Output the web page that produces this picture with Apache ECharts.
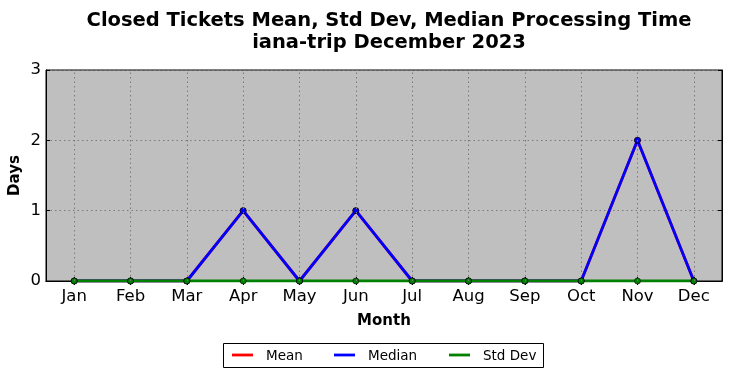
<!DOCTYPE html>
<html><head><meta charset="utf-8">
<script src="https://cdn.jsdelivr.net/npm/echarts@6/dist/echarts.min.js"></script>
<style>html,body{margin:0;padding:0;background:#fff}#c{width:731px;height:378px}</style>
</head><body><div id="c"></div>
<script>
var months = ['Jan','Feb','Mar','Apr','May','Jun','Jul','Aug','Sep','Oct','Nov','Dec'];
var meanVals = [0,0,0,1,0,1,0,0,0,0,2,0];
var medianVals = [0,0,0,1,0,1,0,0,0,0,2,0];
var stdVals = [0,0,0,0,0,0,0,0,0,0,0,0];
var seriesNames = ['Mean','Median','Std Dev'];
var seriesColors = ['#ff0000','#0000ff','#008000'];
var yTicks = [0,1,2,3];

var font = 'DejaVu Sans';
var chart = echarts.init(document.getElementById('c'), null, {renderer:'canvas'});
function ser(name, color, data) {
  return {
    name: name, type: 'line', data: data, xAxisIndex: 0, yAxisIndex: 0,
    symbol: 'circle', symbolSize: 6, showSymbol: true,
    lineStyle: {color: color, width: 2.8},
    itemStyle: {color: color, borderColor: '#000', borderWidth: 0.6},
    emphasis: {disabled: true}, animation: false, z: 3
  };
}
var gridSeries = {
  name: '_grid', type: 'line', data: [], z: 1, silent: true,
  markLine: {
    silent: true, symbol: 'none', label: {show: false}, animation: false,
    lineStyle: {color: '#7a7a7a', type: [1.5, 3], width: 1},
    emphasis: {disabled: true},
    data: months.map(function(m){ return {xAxis: m}; })
  }
};
// legend built from series names/colours
var legendX = [232, 334, 449];
var legendGraphics = [{
  type: 'rect', shape: {x: 223.5, y: 343.5, width: 320, height: 24},
  style: {fill: '#fff', stroke: '#000', lineWidth: 1}, z: 10
}];
seriesNames.forEach(function(n, i){
  legendGraphics.push({type: 'line', shape: {x1: legendX[i], y1: 355, x2: legendX[i] + 21, y2: 355},
    style: {stroke: seriesColors[i], lineWidth: 2.8}, z: 11});
  legendGraphics.push({type: 'text', x: legendX[i] + 34, y: 356,
    style: {text: n, fill: '#000', font: '13.5px "DejaVu Sans"', textVerticalAlign: 'middle', verticalAlign: 'middle'}, z: 11});
});

chart.setOption({
  animation: false,
  backgroundColor: '#fff',
  title: {
    text: 'Closed Tickets Mean, Std Dev, Median Processing Time\niana-trip December 2023',
    left: 384, top: 5, textAlign: 'center',
    textStyle: {fontFamily: font, fontWeight: 'bold', fontSize: 19.5, color: '#000', lineHeight: 22}
  },
  graphic: legendGraphics,
  grid: {left: 46, top: 70, width: 676, height: 211, show: true, backgroundColor: '#bfbfbf', borderColor: '#000', borderWidth: 1, outerBoundsMode: 'none', containLabel: false},
  xAxis: [{
    type: 'category', data: months, boundaryGap: true, position: 'bottom',
    name: 'Month', nameLocation: 'middle', nameGap: 33, nameMoveOverlap: false,
    nameTextStyle: {fontFamily: font, fontWeight: 'bold', fontSize: 15, color: '#000'},
    axisLine: {show: true, lineStyle: {color: '#000'}},
    axisTick: {show: true, inside: true, length: 4, alignWithLabel: true, lineStyle: {color: '#000'}},
    axisLabel: {fontFamily: font, fontSize: 16.5, color: '#000', margin: 7},
    splitLine: {show: false}
  }, {
    type: 'category', data: months, boundaryGap: true, position: 'top',
    axisLine: {show: true, lineStyle: {color: '#000'}},
    axisTick: {show: true, inside: true, length: 4, alignWithLabel: true, lineStyle: {color: '#000'}},
    axisLabel: {show: false}, splitLine: {show: false}
  }],
  yAxis: [{
    type: 'value', min: 0, max: 3, interval: 1,
    name: 'Days', nameLocation: 'middle', nameGap: 23, nameRotate: 90, nameMoveOverlap: false,
    nameTextStyle: {fontFamily: font, fontWeight: 'bold', fontSize: 15, color: '#000'},
    axisLine: {show: true, lineStyle: {color: '#000'}},
    axisTick: {show: true, inside: true, length: 4, lineStyle: {color: '#000'}},
    axisLabel: {fontFamily: font, fontSize: 16.5, color: '#000', margin: 5,
      formatter: function(v){ return yTicks.indexOf(v) >= 0 ? String(v) : ''; }},
    splitLine: {show: true, lineStyle: {color: '#7a7a7a', type: [1.5, 3], width: 1}}
  }, {
    type: 'value', min: 0, max: 3, interval: 1, position: 'right',
    axisLine: {show: true, lineStyle: {color: '#000'}},
    axisTick: {show: true, inside: true, length: 4, lineStyle: {color: '#000'}},
    axisLabel: {show: false}, splitLine: {show: false}
  }],
  series: [
    gridSeries,
    ser(seriesNames[0], seriesColors[0], meanVals),
    ser(seriesNames[1], seriesColors[1], medianVals),
    ser(seriesNames[2], seriesColors[2], stdVals)
  ]
});
</script></body></html>
